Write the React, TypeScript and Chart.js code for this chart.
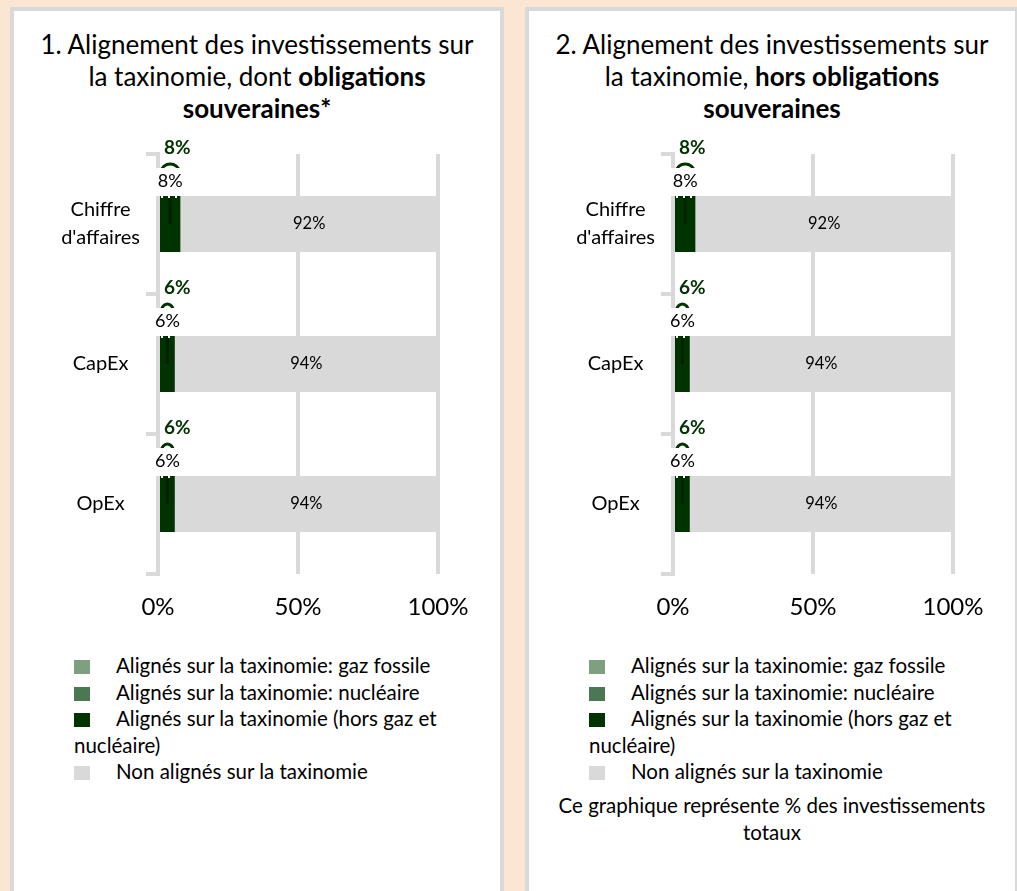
import React, { useEffect, useRef } from "react";
import { Chart, registerables } from "chart.js";
Chart.register(...registerables);

const FONT = "Lato, 'Open Sans', sans-serif";

const categories: (string | string[])[] = [["Chiffre", "d'affaires"], "CapEx", "OpEx"];
const seriesLabels = [
  "Alignés sur la taxinomie: gaz fossile",
  "Alignés sur la taxinomie: nucléaire",
  "Alignés sur la taxinomie (hors gaz et nucléaire)",
  "Non alignés sur la taxinomie",
];
const seriesColors = ["#7FA07F", "#4B7752", "#003300", "#D9D9D9"];
const xTickValues = [0, 50, 100];

// Panel 1: including sovereign bonds
const gas1 = [0, 0, 0];
const nuclear1 = [0, 0, 0];
const aligned1 = [8, 6, 6];
const nonAligned1 = [92, 94, 94];

// Panel 2: excluding sovereign bonds
const gas2 = [0, 0, 0];
const nuclear2 = [0, 0, 0];
const aligned2 = [8, 6, 6];
const nonAligned2 = [92, 94, 94];

const noteText = "Ce graphique représente % des investissements totaux";

const labelPlugin = {
  id: "segLabels",
  afterDatasetsDraw(chart: any) {
    const ctx = chart.ctx as CanvasRenderingContext2D;
    const xs = chart.scales.x;
    const alignedMeta = chart.getDatasetMeta(2);
    const nonMeta = chart.getDatasetMeta(3);
    const alignedData = chart.data.datasets[2].data;
    const nonData = chart.data.datasets[3].data;
    ctx.save();
    alignedMeta.data.forEach((el: any, i: number) => {
      const p = el.getProps(["x", "y", "base", "height"], true);
      const left = Math.min(p.x, p.base);
      const right = Math.max(p.x, p.base);
      const cx = (left + right) / 2;
      const top = p.y - p.height / 2;
      const txt = alignedData[i] + "%";
      // leader stripe inside bar
      ctx.fillStyle = "rgba(0,0,0,0.35)";
      ctx.fillRect(cx - 1.5, top, 3, p.height / 2);
      // white dashes on bar top
      ctx.strokeStyle = "#fff";
      ctx.lineWidth = 2;
      ctx.setLineDash([2, 5]);
      ctx.beginPath();
      ctx.moveTo(left + 1, top + 1);
      ctx.lineTo(right, top + 1);
      ctx.stroke();
      ctx.setLineDash([]);
      // arc
      ctx.strokeStyle = "#003300";
      ctx.lineWidth = 3;
      ctx.beginPath();
      ctx.ellipse(cx, top - 25, Math.max((right - left) / 2 - 1.5, 5), 7, 0, Math.PI, 2 * Math.PI);
      ctx.stroke();
      // label box
      ctx.font = `18px ${FONT}`;
      const tw = ctx.measureText(txt).width;
      ctx.fillStyle = "#fff";
      ctx.fillRect(cx - tw / 2 - 2, top - 28, tw + 4, 28);
      ctx.fillStyle = "#000";
      ctx.textAlign = "center";
      ctx.textBaseline = "middle";
      ctx.fillText(txt, cx, top - 15);
      // bold green label
      ctx.font = `bold 19px ${FONT}`;
      ctx.fillStyle = "#003300";
      ctx.textAlign = "left";
      ctx.fillText(txt, xs.getPixelForValue(0) + 6, top - 48);
    });
    nonMeta.data.forEach((el: any, i: number) => {
      const p = el.getProps(["x", "y", "base"], true);
      ctx.font = `16.5px ${FONT}`;
      ctx.fillStyle = "#000";
      ctx.textAlign = "center";
      ctx.textBaseline = "middle";
      ctx.fillText(nonData[i] + "%", (p.x + p.base) / 2, p.y);
    });
    ctx.restore();
  },
};

function BarChart({ gas, nuclear, aligned, nonAligned }: any) {
  const ref = useRef<HTMLCanvasElement>(null);
  useEffect(() => {
    const values = [gas, nuclear, aligned, nonAligned];
    const chart = new Chart(ref.current!, {
      type: "bar",
      data: {
        labels: categories,
        datasets: seriesLabels.map((label, i) => ({
          label,
          data: values[i],
          backgroundColor: seriesColors[i],
          borderWidth: 0,
          barPercentage: 0.4,
          categoryPercentage: 1,
        })),
      },
      options: {
        indexAxis: "y",
        animation: false,
        responsive: false,
        maintainAspectRatio: false,
        layout: { padding: { top: 24, right: 62, left: 0, bottom: 0 } },
        plugins: {
          legend: { display: false },
          tooltip: { enabled: false },
          title: { display: false },
        },
        scales: {
          x: {
            stacked: true,
            min: 0,
            max: 100,
            afterBuildTicks: (s: any) => {
              s.ticks = xTickValues.map((v) => ({ value: v }));
            },
            afterFit: (s: any) => {
              s.height = 60;
            },
            grid: { color: "#D9D9D9", lineWidth: 4, drawTicks: false },
            border: { display: false },
            ticks: {
              padding: 19,
              maxRotation: 0,
              color: "#000",
              font: { family: FONT, size: 24 },
              callback: (v: any) => v + "%",
            },
          },
          y: {
            stacked: true,
            afterFit: (s: any) => {
              s.width = 144;
            },
            grid: {
              color: "#D9D9D9",
              lineWidth: 4,
              drawOnChartArea: false,
              tickLength: 12,
              offset: true,
            },
            border: { display: true, color: "#D9D9D9", width: 4 },
            ticks: {
              crossAlign: "center",
              padding: 6,
              color: "#000",
              font: { family: FONT, size: 20, lineHeight: 1.4 },
            },
          },
        },
      },
      plugins: [labelPlugin],
    } as any);
    return () => chart.destroy();
  }, []);
  return <canvas ref={ref} width={486} height={504} style={{ width: 486, height: 504, display: "block" }} />;
}

function Panel({ left, title, data, note }: any) {
  return (
    <div
      style={{
        position: "absolute",
        left,
        top: 7,
        width: 494,
        height: 900,
        boxSizing: "border-box",
        border: "4px solid #D9D9D9",
        background: "#fff",
      }}
    >
      <div
        style={{
          position: "absolute",
          top: 17,
          left: 0,
          right: 0,
          textAlign: "center",
          fontSize: 26,
          lineHeight: "32px",
        }}
      >
        {title}
      </div>
      <div style={{ position: "absolute", top: 119, left: 0 }}>
        <BarChart {...data} />
      </div>
      <div
        style={{
          position: "absolute",
          top: 641,
          left: 60,
          width: 420,
          fontSize: 20.5,
          lineHeight: "26.5px",
        }}
      >
        {seriesLabels.map((l, i) => (
          <div key={i}>
            <span
              style={{
                display: "inline-block",
                width: 16,
                height: 14,
                background: seriesColors[i],
                marginRight: 26,
                verticalAlign: "-1px",
              }}
            />
            {l}
          </div>
        ))}
      </div>
      {note && (
        <div
          style={{
            position: "absolute",
            top: 781,
            left: 20,
            right: 20,
            textAlign: "center",
            fontSize: 20.5,
            lineHeight: "27px",
          }}
        >
          {note}
        </div>
      )}
    </div>
  );
}

export default function App() {
  return (
    <div
      style={{
        position: "fixed",
        left: 0,
        top: 0,
        width: 1017,
        height: 891,
        background: "#FBE6D4",
        overflow: "hidden",
        fontFamily: FONT,
        color: "#000",
      }}
    >
      <Panel
        left={10}
        title={
          <>
            1. Alignement des investissements sur
            <br />
            la taxinomie, dont <b>obligations</b>
            <br />
            <b>souveraines*</b>
          </>
        }
        data={{ gas: gas1, nuclear: nuclear1, aligned: aligned1, nonAligned: nonAligned1 }}
      />
      <Panel
        left={525}
        title={
          <>
            2. Alignement des investissements sur
            <br />
            la taxinomie, <b>hors obligations</b>
            <br />
            <b>souveraines</b>
          </>
        }
        data={{ gas: gas2, nuclear: nuclear2, aligned: aligned2, nonAligned: nonAligned2 }}
        note={noteText}
      />
    </div>
  );
}
